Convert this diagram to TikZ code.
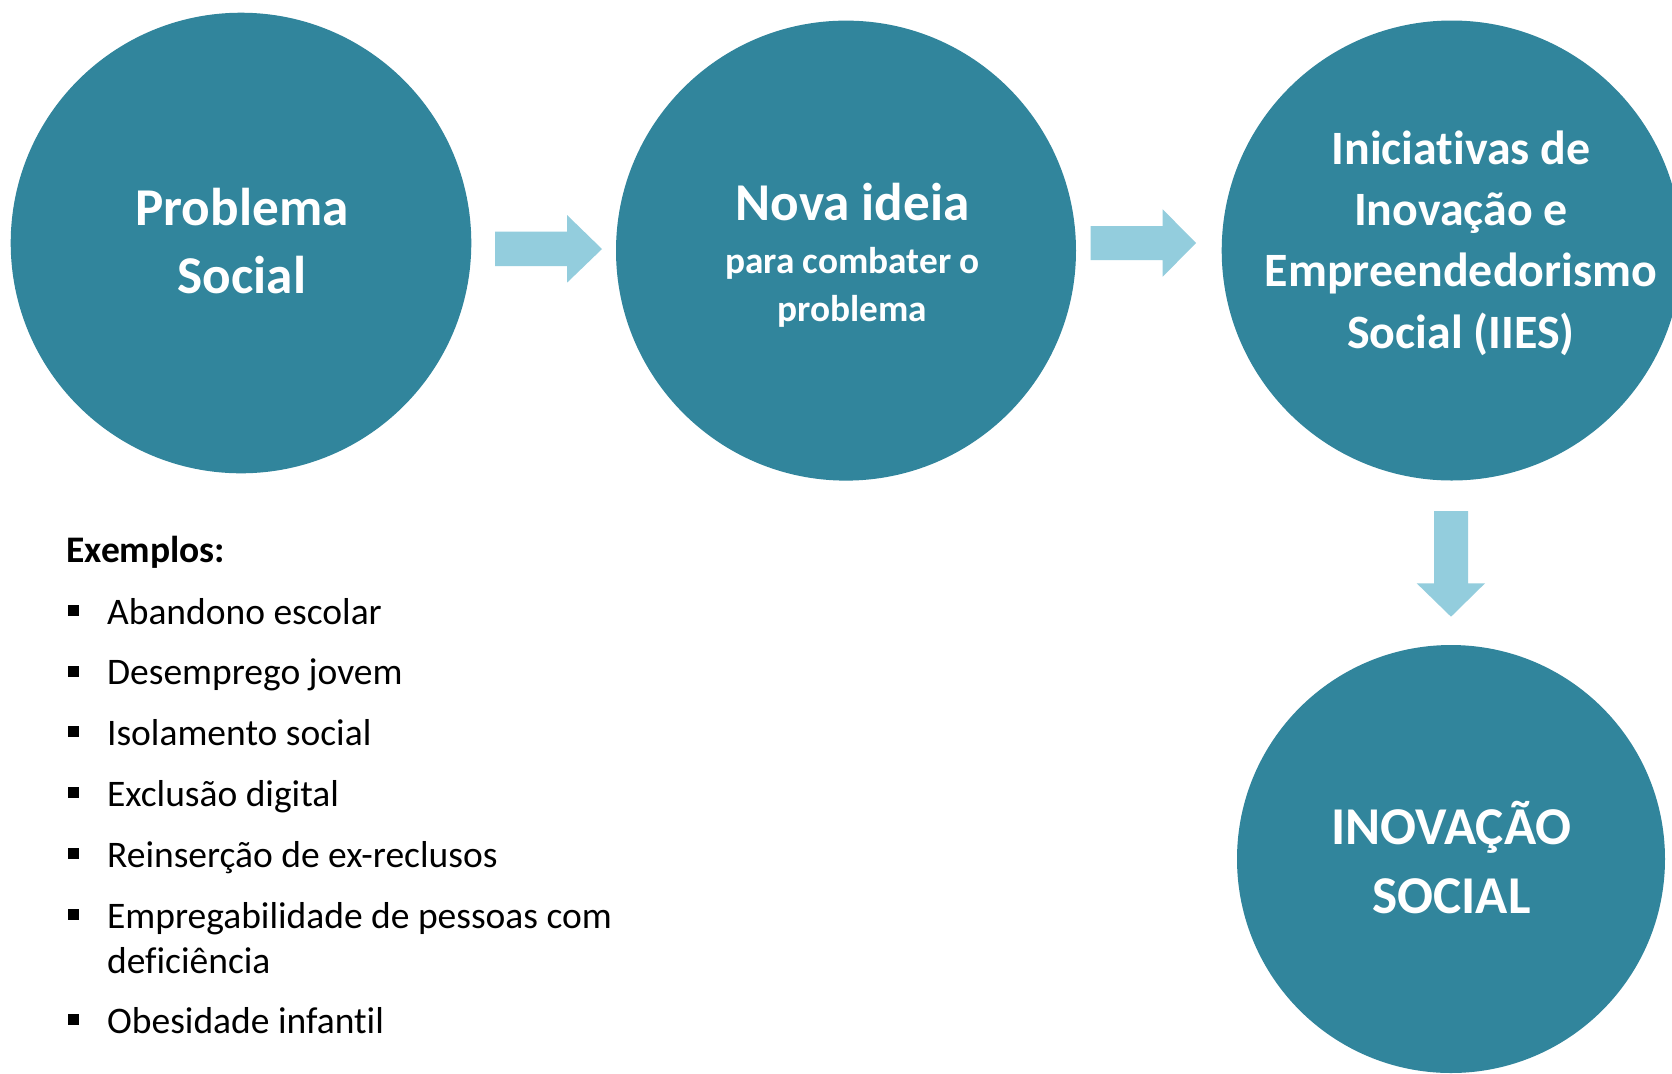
\documentclass[tikz,border=0pt]{standalone}
\usepackage{fontspec}
\setmainfont{Carlito}[RawFeature={-liga}]
\definecolor{circc}{HTML}{31859C}
\definecolor{arrc}{HTML}{93CDDD}
\begin{document}
\begin{tikzpicture}[x=0.5pt,y=-0.5pt,
  circ/.style={circle, fill=circc, inner sep=0pt},
  big/.style={anchor=base, inner sep=0pt, text=white, font=\fontsize{26.6}{31}\selectfont\bfseries},
  mid/.style={anchor=base, inner sep=0pt, text=white, font=\fontsize{23.95}{29}\selectfont\bfseries},
  small/.style={anchor=base, inner sep=0pt, text=white, font=\fontsize{18.65}{22}\selectfont\bfseries},
  body/.style={anchor=base west, inner sep=0pt, text=black, font=\fontsize{18.75}{22}\selectfont},
  blk/.style={fill=arrc}]
\fill[white] (0,0) rectangle (1672,1073);
\useasboundingbox (0,0) rectangle (1672,1073);

% circles
\node[circ, minimum size=230.3pt] (c1) at (241,243) {};
\node[circ, minimum size=230pt] (c2) at (846,250.6) {};
\node[circ, minimum size=230pt] (c3) at (1451.7,250.5) {};
\node[circ, minimum size=214pt] (c4) at (1451,859) {};

% block arrows
\fill[blk] (495,231.7) -- (567,231.7) -- (567,215) -- (602,249) -- (567,282.7) -- (567,266) -- (495,266) -- cycle;
\fill[blk] (1090.7,226) -- (1162.7,226) -- (1162.7,209.3) -- (1196,243) -- (1162.7,276.7) -- (1162.7,260) -- (1090.7,260) -- cycle;
\fill[blk] (1434,511) -- (1468,511) -- (1468,583.3) -- (1485,583.3) -- (1451,616.7) -- (1416.7,583.3) -- (1434,583.3) -- cycle;

% circle texts
\node[big] (t1a) at (242,225) {Problema};
\node[big] (t1b) at (242,293) {Social};

\node[big] (t2a) at (852.5,220) {Nova ideia};
\node[small] (t2b) at (852.5,273.5) {para combater o};
\node[small] (t2c) at (852.5,321) {problema};

\node[mid] (t3a) at (1461,164) {Iniciativas de};
\node[mid] (t3b) at (1461,225) {Inovação e};
\node[mid] (t3c) at (1461,286.7) {Empreendedorismo};
\node[mid] (t3d) at (1461,348) {Social (IIES)};

\node[big] (t4a) at (1451.5,844) {INOVAÇÃO};
\node[big] (t4b) at (1451.5,913.3) {SOCIAL};

% examples
\node[body, font=\fontsize{18.75}{22}\selectfont\bfseries] (ex) at (66,562.7) {Exemplos:};
\node[body] (i1) at (106.7,624) {Abandono escolar};
\node[body] (i2) at (106.7,684.8) {Desemprego jovem};
\node[body] (i3) at (106.7,745.6) {Isolamento social};
\node[body] (i4) at (106.7,806.4) {Exclusão digital};
\node[body] (i5) at (106.7,867.2) {Reinserção de ex-reclusos};
\node[body] (i6) at (106.7,928) {Empregabilidade de pessoas com};
\node[body] (i6b) at (106.7,973) {deficiência};
\node[body] (i7) at (106.7,1033) {Obesidade infantil};

% bullets
\foreach \b in {624,684.8,745.6,806.4,867.2,928,1033}{
  \fill[black] (68.3,\b-19.3) rectangle (79.3,\b-8.3);
}
\end{tikzpicture}
\end{document}
